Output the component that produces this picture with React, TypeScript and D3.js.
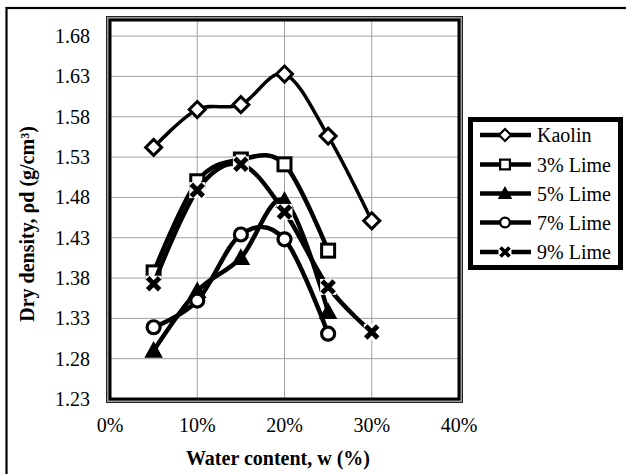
import * as d3 from "d3"

const water = [5, 10, 15, 20, 25, 30]
const kaolin = [1.542, 1.589, 1.595, 1.633, 1.556, 1.451]
const lime3 = [1.387, 1.5, 1.527, 1.521, 1.414]
const lime5 = [1.29, 1.364, 1.405, 1.476, 1.338]
const lime7 = [1.319, 1.352, 1.434, 1.428, 1.311]
const lime9 = [1.373, 1.489, 1.521, 1.462, 1.369, 1.313]

const seriesNames = ["Kaolin", "3% Lime", "5% Lime", "7% Lime", "9% Lime"]
const seriesValues = [kaolin, lime3, lime5, lime7, lime9]
const markerKinds = ["diamond", "square", "triangle", "circle", "cross"]

const xTicks = [0, 10, 20, 30, 40]
const yTicks = [1.23, 1.28, 1.33, 1.38, 1.43, 1.48, 1.53, 1.58, 1.63, 1.68]

// regular-weight label font
const txt = { fontFamily: "Tinos, Times, serif", fontSize: "20px", fontWeight: 400 }

function Marker({ kind, x, y, s = 1 }: { kind: string; x: number; y: number; s?: number }) {
  if (kind === "diamond") {
    const r = 8 * s
    return (
      <path
        d={`M${x},${y - r}L${x + r},${y}L${x},${y + r}L${x - r},${y}Z`}
        fill="#fff"
        stroke="#000"
        strokeWidth={3 * s}
      />
    )
  }
  if (kind === "square") {
    const r = 6.5 * s
    return <rect x={x - r} y={y - r} width={2 * r} height={2 * r} fill="#fff" stroke="#000" strokeWidth={3 * s} />
  }
  if (kind === "triangle") {
    const r = 8 * s
    return <path d={`M${x},${y - r}L${x + r},${y + r * 0.8}L${x - r},${y + r * 0.8}Z`} fill="#000" stroke="#000" strokeWidth={1.5} />
  }
  if (kind === "circle") {
    return <circle cx={x} cy={y} r={6.5 * s} fill="#fff" stroke="#000" strokeWidth={3.2 * s} />
  }
  const r = 6 * s
  const d = `M${x - r},${y - r}L${x + r},${y + r}M${x + r},${y - r}L${x - r},${y + r}`
  return (
    <g>
      <rect x={x - r - 2} y={y - r - 2} width={2 * r + 4} height={2 * r + 4} fill="#fff" />
      <path d={d} stroke="#000" strokeWidth={5 * s} />
    </g>
  )
}

export default function App() {
  const width = 626
  const height = 474
  const plot = { left: 110, right: 459, top: 20, bottom: 399 }

  const x = d3.scaleLinear().domain([0, 40]).range([plot.left, plot.right])
  const y = d3.scaleLinear().domain([1.23, 1.7]).range([plot.bottom, plot.top])

  const line = d3
    .line<[number, number]>()
    .x((d) => x(d[0]))
    .y((d) => y(d[1]))
    .curve(d3.curveCardinal.tension(0))

  const legendY = [135, 164.5, 193.5, 222.5, 252]
  const pw = plot.right - plot.left
  const ph = plot.bottom - plot.top

  return (
    <svg width={width} height={height} style={{ position: "absolute", left: 0, top: 0, background: "#fff" }}>
      <rect x={0} y={0} width={width} height={height} fill="#fff" />
      {/* outer frame, runs off the right and bottom edges */}
      <rect x={6.5} y={8} width={640} height={490} fill="none" stroke="#000" strokeWidth={2.2} />

      {/* gridlines */}
      {xTicks.map((t) => (
        <line key={"gx" + t} x1={x(t)} x2={x(t)} y1={plot.top} y2={plot.bottom} stroke="#a0a0a0" strokeWidth={1} />
      ))}
      {yTicks.map((t) => (
        <line key={"gy" + t} x1={plot.left} x2={plot.right} y1={y(t)} y2={y(t)} stroke="#a0a0a0" strokeWidth={1} />
      ))}

      {/* plot frame */}
      <rect x={plot.left - 2.5} y={plot.top - 2.5} width={pw + 5} height={ph + 5} fill="none" stroke="#9a9a9a" strokeWidth={3} />
      <rect x={plot.left - 3.5} y={plot.top - 3.5} width={pw + 7} height={ph + 7} fill="none" stroke="#222" strokeWidth={1} />
      <rect x={plot.left} y={plot.top} width={pw} height={ph} fill="none" stroke="#000" strokeWidth={3} />

      {/* tick labels */}
      {yTicks.map((t) => (
        <text key={"ty" + t} x={90} y={y(t) + 7} textAnchor="end" style={txt}>
          {t.toFixed(2)}
        </text>
      ))}
      {xTicks.map((t) => (
        <text key={"tx" + t} x={x(t)} y={432} textAnchor="middle" style={txt}>
          {t + "%"}
        </text>
      ))}

      {/* axis titles */}
      <text x={278} y={465} textAnchor="middle" style={{ ...txt, fontWeight: 700 }}>
        Water content, w (%)
      </text>
      <text transform={`translate(34,224) rotate(-90)`} textAnchor="middle" style={{ ...txt, fontWeight: 700 }}>
        Dry density, ρd (g/cm³)
      </text>

      {/* series */}
      {seriesValues.map((vals, i) => {
        const pts = vals.map((v, j) => [water[j], v] as [number, number])
        return (
          <g key={seriesNames[i]}>
            <path d={line(pts) ?? ""} fill="none" stroke="#000" strokeWidth={i === 0 ? 3.5 : 4.5} />
            {pts.map((p, j) => (
              <Marker key={j} kind={markerKinds[i]} x={x(p[0])} y={y(p[1])} />
            ))}
          </g>
        )
      })}

      {/* legend */}
      <rect x={470.5} y={119.5} width={150} height={148} fill="#fff" stroke="#000" strokeWidth={5} />
      {seriesNames.map((name, i) => (
        <g key={"lg" + name}>
          <line x1={480} x2={531} y1={legendY[i]} y2={legendY[i]} stroke="#000" strokeWidth={4.5} />
          <Marker kind={markerKinds[i]} x={505} y={legendY[i]} s={0.75} />
          <text x={537} y={legendY[i] + 7} style={txt}>
            {name}
          </text>
        </g>
      ))}
    </svg>
  )
}
